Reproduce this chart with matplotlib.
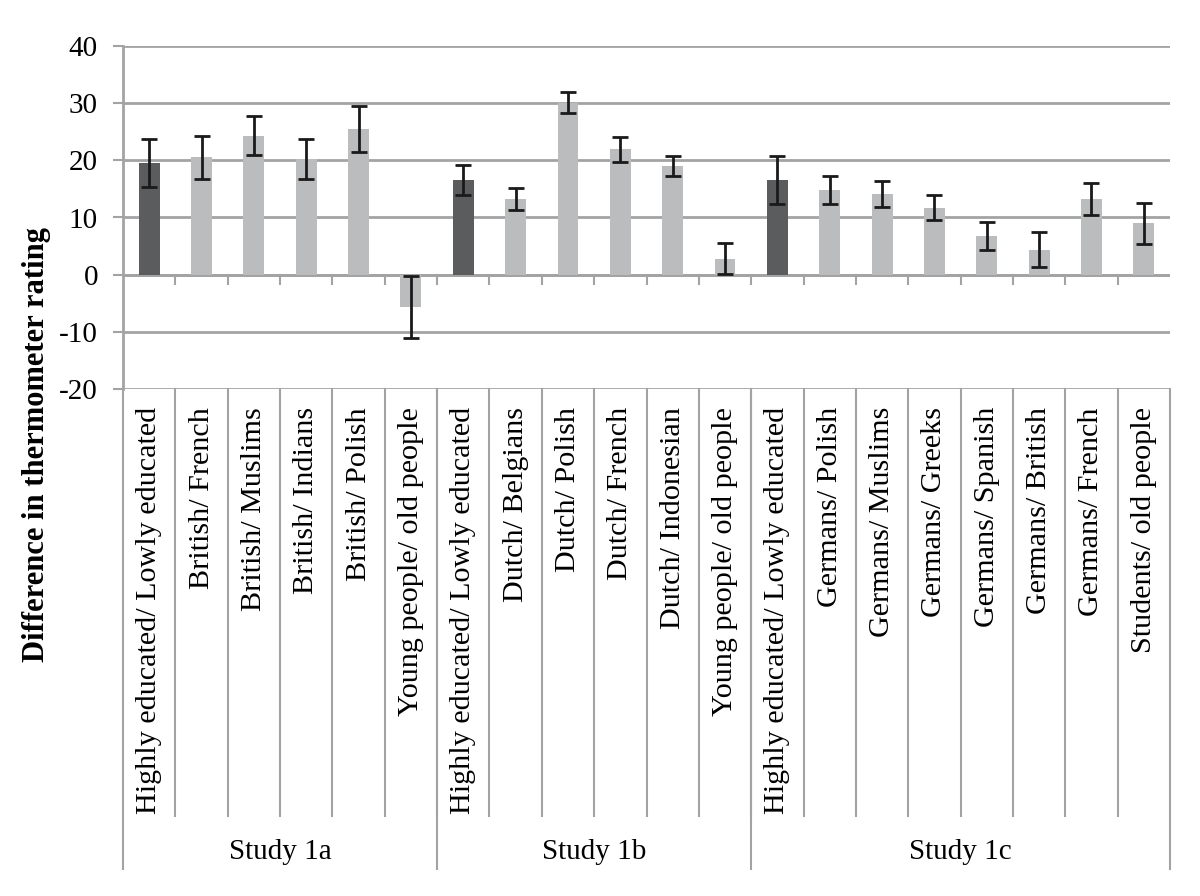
import matplotlib.pyplot as plt
import numpy as np
from matplotlib.transforms import blended_transform_factory

# comparisons, in drawing order
labels = ["Highly educated/ Lowly educated", "British/ French", "British/ Muslims",
          "British/ Indians", "British/ Polish", "Young people/ old people",
          "Highly educated/ Lowly educated", "Dutch/ Belgians", "Dutch/ Polish",
          "Dutch/ French", "Dutch/ Indonesian", "Young people/ old people",
          "Highly educated/ Lowly educated", "Germans/ Polish", "Germans/ Muslims",
          "Germans/ Greeks", "Germans/ Spanish", "Germans/ British",
          "Germans/ French", "Students/ old people"]
values = [19.6, 20.5, 24.3, 20.2, 25.5, -5.6,
          16.6, 13.2, 30.1, 21.9, 19.0, 2.8,
          16.6, 14.8, 14.1, 11.7, 6.8, 4.4, 13.2, 9.0]
errors = [4.2, 3.8, 3.4, 3.5, 4.0, 5.4,
          2.6, 1.9, 1.9, 2.2, 1.8, 2.7,
          4.2, 2.5, 2.3, 2.2, 2.4, 3.0, 2.8, 3.6]
studies = ["Study 1a", "Study 1b", "Study 1c"]
study_sizes = [6, 6, 8]
education = [0, 6, 12]  # bars drawn dark

plt.rcParams['font.family'] = ['Liberation Serif', 'DejaVu Serif']
plt.rcParams['axes.unicode_minus'] = False
grid_col = '#a3a3a3'
fs = 21

fig = plt.figure(figsize=(12, 8.96), dpi=100)
ax = fig.add_axes([123/1200, 1 - 389/896, 1047/1200, 343/896])

x = np.arange(len(values))
colors = ['#5b5c5e' if i in education else '#bbbcbe' for i in x]
ax.bar(x, values, width=0.4, color=colors, zorder=2)
ax.errorbar(x, values, yerr=errors, fmt='none', ecolor='#1a1a1a',
            elinewidth=2, capsize=6, capthick=2, zorder=3)

ax.set_xlim(-0.5, len(values) - 0.5)
ax.set_ylim(-20, 40)
ax.set_yticks(range(-20, 41, 10))
ax.tick_params(axis='y', length=7, width=1.5, color=grid_col, labelsize=fs, pad=11)
ax.set_xticks([])
ax.grid(axis='y', color=grid_col, linewidth=2, zorder=0)
for s in ['top', 'right', 'bottom']:
    ax.spines[s].set_visible(False)
ax.spines['left'].set_color(grid_col)
ax.spines['left'].set_linewidth(2)

# zero line with small ticks between categories
ax.axhline(0, color=grid_col, linewidth=2, zorder=1)
tr = blended_transform_factory(ax.transData, ax.transAxes)
px = 1 / 343  # one pixel in axes fraction
for b in np.arange(0.5, len(values) - 1, 1.0):
    ax.plot([b, b], [0, -1.6], color=grid_col, linewidth=1.5, zorder=1)

# category labels and separators below the plot
for b in np.arange(0.5, len(values) - 1, 1.0):
    ax.plot([b, b], [0, -427 * px], transform=tr, color=grid_col,
            linewidth=1.5, clip_on=False)
for i, lab in enumerate(labels):
    ax.text(i, -18 * px, lab, transform=tr, rotation=90, ha='center', va='top',
            fontsize=21.7)

# study labels
edges = np.concatenate([[0], np.cumsum(study_sizes)]) - 0.5
for e in edges:
    ax.plot([e, e], [0, -480 * px], transform=tr, color=grid_col,
            linewidth=1.5, clip_on=False)
for k, st in enumerate(studies):
    ax.text((edges[k] + edges[k + 1]) / 2, -463 * px, st, transform=tr,
            ha='center', va='center', fontsize=fs)

fig.text(37/1200, 1 - 445/896, "Difference in thermometer rating", rotation=90,
         ha='center', va='center', fontsize=22, fontweight='bold')

fig.savefig('out.png', dpi=100)
